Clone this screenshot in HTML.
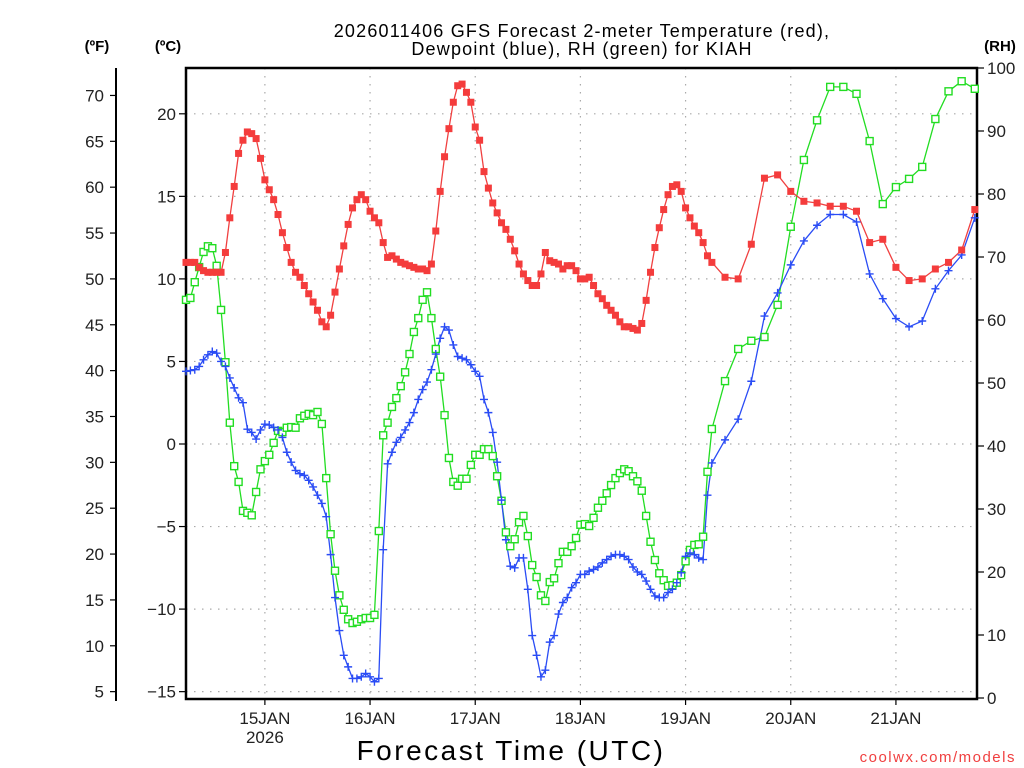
<!DOCTYPE html>
<html><head><meta charset="utf-8">
<style>
body{margin:0;background:#fff;}
svg{display:block;font-family:"Liberation Sans",sans-serif;}
</style></head>
<body>
<svg id="chart" width="1024" height="768" viewBox="0 0 1024 768">
<rect width="1024" height="768" fill="#fff"/>
<text x="582" y="37" text-anchor="middle" font-size="18" letter-spacing="1.2" fill="#000">2026011406 GFS Forecast 2-meter Temperature (red),</text>
<text x="582" y="55" text-anchor="middle" font-size="18" letter-spacing="1.2" fill="#000">Dewpoint (blue), RH (green) for KIAH</text>
<text x="97" y="51" text-anchor="middle" font-size="15" font-weight="bold">(ºF)</text>
<text x="168" y="51" text-anchor="middle" font-size="15" font-weight="bold">(ºC)</text>
<text x="1000" y="51" text-anchor="middle" font-size="15" font-weight="bold">(RH)</text>
<text x="511" y="760" text-anchor="middle" font-size="28" letter-spacing="2.5">Forecast Time (UTC)</text>
<text x="1016" y="762" text-anchor="end" font-size="15" fill="#f04040" letter-spacing="1.5">coolwx.com/models</text>
<g id="grid"></g>
<g id="axes"></g>
<g id="series"></g>
</svg>
<script>
const hours = [];
for (let h = 0; h <= 120; h++) hours.push(h);
for (let h = 123; h <= 180; h += 3) hours.push(h);

const tempC = [11.0,11.0,11.0,10.7,10.5,10.4,10.4,10.4,10.4,11.6,13.7,15.6,17.6,18.4,18.9,18.8,18.5,17.3,16.0,15.4,14.8,13.9,12.8,11.9,11.0,10.4,10.1,9.6,9.1,8.6,8.1,7.4,7.1,7.8,9.2,10.6,12.0,13.3,14.3,14.8,15.1,14.8,14.1,13.7,13.4,12.2,11.3,11.4,11.2,11.0,10.9,10.8,10.7,10.6,10.6,10.5,10.9,12.9,15.3,17.4,19.1,20.7,21.7,21.8,21.3,20.7,19.2,18.4,16.5,
15.5,14.6,14.0,13.4,13.0,12.4,11.7,10.9,10.3,9.9,9.6,9.6,10.3,11.6,11.1,11.0,10.9,10.6,10.8,10.8,10.5,10.0,10.0,10.1,9.6,9.1,8.8,8.4,8.1,7.8,7.4,7.1,7.1,7.0,6.9,7.3,8.7,10.4,11.9,13.1,14.2,15.1,15.6,15.7,15.3,14.3,13.7,13.2,12.8,12.2,11.4,11.0,
10.1,10.0,12.1,16.1,16.3,15.3,14.7,14.6,14.4,14.4,14.1,12.2,12.4,10.7,9.9,10.0,10.6,11.0,11.75,14.2];

const dewC = [4.4,4.45,4.5,4.7,5.1,5.4,5.6,5.5,5.0,4.7,4.0,3.4,2.8,2.5,0.9,0.7,0.3,0.85,1.2,1.15,1.0,0.85,0.4,-0.5,-1.1,-1.6,-1.8,-1.9,-2.2,-2.6,-3.1,-3.6,-4.4,-6.7,-9.3,-11.3,-12.8,-13.5,-14.2,-14.2,-14.1,-13.9,-14.1,-14.4,-14.2,-6.4,-1.2,-0.5,0.1,0.4,0.85,1.3,1.9,2.7,3.3,3.75,4.5,5.45,6.4,7.1,6.9,6.0,5.3,5.2,5.1,4.8,4.4,
4.1,2.7,1.9,0.7,-1.1,-3.4,-5.8,-7.4,-7.5,-6.9,-6.9,-8.8,-11.6,-12.8,-14.1,-13.7,-12.0,-11.6,-10.3,-9.6,-9.3,-8.7,-8.4,-7.9,-7.9,-7.7,-7.6,-7.45,-7.2,-7.0,-6.8,-6.7,-6.7,-6.8,-7.0,-7.45,-7.75,-7.9,-8.3,-8.8,-9.2,-9.3,-9.3,-9.0,-8.8,-8.4,-7.8,-6.8,-6.6,-6.7,-6.9,-7.0,-3.1,-1.15,
0.25,1.5,3.8,7.75,9.15,10.85,12.3,13.25,13.9,13.9,13.45,10.3,8.8,7.6,7.1,7.45,9.4,10.5,11.45,13.7];

const rh = [63.2,63.5,66.0,68.4,70.8,71.7,71.4,68.6,61.6,53.3,43.7,36.8,34.3,29.7,29.4,29.0,32.7,36.3,37.6,38.6,40.5,42.4,42.2,42.9,43.0,42.9,44.4,44.8,45.1,44.9,45.4,43.5,34.9,26.0,20.2,16.3,14.0,12.5,11.9,12.1,12.5,12.7,12.7,13.2,26.5,41.7,43.7,46.2,47.6,49.5,51.7,54.6,58.1,60.3,63.2,64.4,60.3,55.4,51.0,44.9,38.1,34.3,33.7,34.8,34.8,37.0,38.6,38.6,
39.5,39.5,38.4,35.2,31.3,26.3,24.1,25.2,27.9,28.9,25.7,21.1,19.2,16.3,15.4,18.4,19.0,21.4,23.2,23.2,24.1,25.4,27.5,27.6,27.3,28.6,30.2,31.3,32.5,33.8,34.9,35.7,36.3,36.0,35.2,34.4,32.9,28.9,24.8,21.9,19.8,18.7,17.8,17.9,18.3,19.5,21.7,23.5,24.3,24.4,25.6,35.9,42.7,
50.3,55.4,56.7,57.3,62.4,74.8,85.4,91.7,97.0,97.0,95.9,88.4,78.4,81.1,82.4,84.3,91.9,96.3,97.9,96.7];

const dayLabels = ["15JAN","16JAN","17JAN","18JAN","19JAN","20JAN","21JAN"];
const dayHours = [18,42,66,90,114,138,162];
const cTicks = [20,15,10,5,0,-5,-10,-15];
const fTicks = [70,65,60,55,50,45,40,35,30,25,20,15,10,5];
const rhTicks = [100,90,80,70,60,50,40,30,20,10,0];

const X0=186, X1=977, Y0=68, Y1=699;
const xS = h => X0 + (h/180.5)*(X1-X0);
const yC = c => 444 - c*16.51;
const yF = f => yC((f-32)*5/9);
const yRH = r => 698 - r*6.3;
const NS="http://www.w3.org/2000/svg";
function mk(tag, attrs, parent){const e=document.createElementNS(NS,tag);for(const k in attrs)e.setAttribute(k,attrs[k]);parent.appendChild(e);return e;}
const grid=document.getElementById('grid'), axes=document.getElementById('axes'), ser=document.getElementById('series');

cTicks.forEach(c=>{
  const y=yC(c);
  const g=mk('line',{x1:X0,x2:X1,y1:y,y2:y,stroke:'#aaa','stroke-width':1.2,'stroke-dasharray':'1.5 6.5'},grid);
  
  
  const t=mk('line',{x1:X0-7,x2:X0,y1:y,y2:y,stroke:'#000','stroke-width':1.2},axes);
  
  
  const l=mk('text',{x:X0-10,y:y+6,'text-anchor':'end','font-size':17,fill:'#222'},axes);
  l.textContent = c<0 ? '\u2212'+Math.abs(c) : String(c);
  
  
});
dayHours.forEach((h,i)=>{
  const x=xS(h);
  const g=mk('line',{x1:x,x2:x,y1:Y0,y2:Y1,stroke:'#aaa','stroke-width':1.2,'stroke-dasharray':'1.5 6.5'},grid);
  
  
  const t=mk('line',{x1:x,x2:x,y1:Y1,y2:Y1+6,stroke:'#000','stroke-width':1.2},axes);
  
  
  const l=mk('text',{x:x,y:724,'text-anchor':'middle','font-size':17,fill:'#222'},axes);
  l.textContent=dayLabels[i];
  
  
  if(i===0){
    const y2=mk('text',{x:x,y:743,'text-anchor':'middle','font-size':17,fill:'#222'},axes);
    y2.textContent='2026';
    
    
  }
});
const fl=mk('line',{x1:116,x2:116,y1:Y0,y2:Y1+2,stroke:'#000','stroke-width':2},axes);


fTicks.forEach(f=>{
  const y=yF(f);
  const t=mk('line',{x1:110,x2:116,y1:y,y2:y,stroke:'#000','stroke-width':1.2},axes);
  
  
  const l=mk('text',{x:104,y:y+6,'text-anchor':'end','font-size':17,fill:'#222'},axes);
  l.textContent=String(f);
  
  
});
rhTicks.forEach(r=>{
  const y=yRH(r);
  const t=mk('line',{x1:X1,x2:X1+7,y1:y,y2:y,stroke:'#000','stroke-width':1.2},axes);
  
  
  const l=mk('text',{x:X1+10,y:y+6,'text-anchor':'start','font-size':17,fill:'#222'},axes);
  l.textContent=String(r);
  
  
});
const box=mk('rect',{x:X0,y:Y0,width:X1-X0,height:Y1-Y0,fill:'none',stroke:'#000','stroke-width':2.5},axes);



function line(vals, yf, color, name){
  const pts=vals.map((v,i)=>xS(hours[i]).toFixed(1)+','+yf(v).toFixed(1)).join(' ');
  const p=mk('polyline',{points:pts,fill:'none',stroke:color,'stroke-width':1.3},ser);
  
  
}
line(rh,yRH,'#22dd22','rh-line');
line(dewC,yC,'#2a4cf5','dewpoint-line');
line(tempC,yC,'#f04040','temperature-line');
rh.forEach((v,i)=>{
  const x=xS(hours[i]), y=yRH(v);
  const m=mk('rect',{x:x-3.5,y:y-3.5,width:7,height:7,fill:'#fff',stroke:'#22dd22','stroke-width':1.4},ser);
  
  
});
dewC.forEach((v,i)=>{
  const x=xS(hours[i]), y=yC(v);
  const m=mk('path',{d:`M${x-4},${y}H${x+4}M${x},${y-4}V${y+4}`,stroke:'#2a4cf5','stroke-width':1.4,fill:'none'},ser);
  
  
});
tempC.forEach((v,i)=>{
  const x=xS(hours[i]), y=yC(v);
  const m=mk('rect',{x:x-3.5,y:y-3.5,width:7,height:7,fill:'#f43c3c'},ser);
  
  
});
</script>
</body></html>
